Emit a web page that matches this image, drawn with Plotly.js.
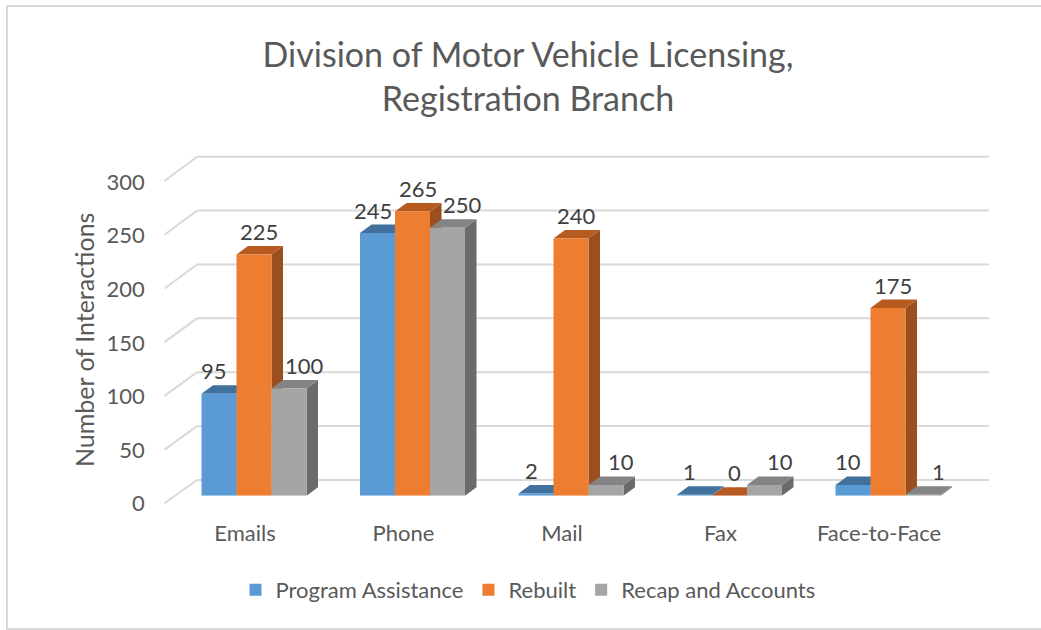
<!DOCTYPE html>
<html>
<head>
<meta charset="utf-8">
<script src="https://cdn.plot.ly/plotly-3.0.1.min.js"></script>
<style>
html,body{margin:0;padding:0;background:#fff;overflow:hidden;}
#wrap{position:relative;width:1041px;height:630px;}
#chart{width:1041px;height:630px;}
#frame{position:absolute;left:6px;top:5px;width:1100px;height:625px;border:2px solid #d9d9d9;box-sizing:border-box;pointer-events:none;}
</style>
</head>
<body>
<div id="wrap"><div id="chart"></div><div id="frame"></div></div>
<script>
// ---- data ----
const categories = ['Emails', 'Phone', 'Mail', 'Fax', 'Face-to-Face'];
const seriesNames = ['Program Assistance', 'Rebuilt', 'Recap and Accounts'];
const programAssistance = [95, 245, 2, 1, 10];
const rebuilt = [225, 265, 240, 0, 175];
const recapAndAccounts = [100, 250, 10, 10, 1];
const yTickVals = [0, 50, 100, 150, 200, 250, 300];
const titleText = 'Division of Motor Vehicle Licensing,<br>Registration Branch';
const yTitleText = 'Number of Interactions';

// ---- styles ----
const frontColors = ['#5B9BD5', '#ED7D31', '#A5A5A5'];
const topColors = ['#41719C', '#B65A20', '#848484'];
const sideColors = ['#3A6590', '#9B4F1E', '#6B6B6B'];
const labelShift = [-5, 5, 15];
const FONT = 'Lato, "Open Sans", sans-serif';
const TXT = '#595959';
const GRID = '#d9d9d9';

const W = 1041, H = 630;
const px = v => v / W;
const py = v => 1 - v / H;

// geometry (pixels)
const barX0 = 174.75, barX1 = 967.25, barYbase = 495.7, barYtop = 174.1;
const wallX0 = 197, wallX1 = 989, wallYbase = 480, wallYtop = 156.7;
const axX = 164.5, axYbase = 503.3, axYtop = 181;
const depthX = 11.5, depthY = 8.5;
const yMax = 300;
const bargap = 1 - 105 / 158.5;

const seriesValues = [programAssistance, rebuilt, recapAndAccounts];
const xIdx = categories.map((c, i) => i);

const traces = seriesValues.map((vals, j) => ({
  type: 'bar',
  name: seriesNames[j],
  x: xIdx,
  y: vals,
  marker: {color: frontColors[j], line: {width: 0}},
  hoverinfo: 'skip'
}));

// 3D faces via data coords
const nS = seriesValues.length;
const groupW = 1 - bargap;
const bw = groupW / nS;
const xu = (categories.length) / (barX1 - barX0);
const yu = yMax / (barYbase - barYtop);
const dX = depthX * xu, dY = depthY * yu;
const shapes = [];

// back wall gridlines and diagonal connectors (from tick values)
yTickVals.forEach(t => {
  const yf = axYbase - (axYbase - axYtop) * t / yMax;
  const yb = wallYbase - (wallYbase - wallYtop) * t / yMax;
  shapes.push({
    type: 'line', xref: 'paper', yref: 'paper', layer: 'below',
    x0: px(wallX0), y0: py(yb), x1: px(wallX1), y1: py(yb),
    line: {color: GRID, width: 2}
  });
  shapes.push({
    type: 'line', xref: 'paper', yref: 'paper', layer: 'below',
    x0: px(axX), y0: py(yf), x1: px(wallX0), y1: py(yb),
    line: {color: GRID, width: 2}
  });
});

categories.forEach((c, i) => {
  seriesValues.forEach((vals, j) => {
    const v = vals[i];
    const L = i - groupW / 2 + j * bw;
    const R = L + bw;
    shapes.push({
      type: 'path', xref: 'x', yref: 'y', layer: 'below',
      path: `M${R},0 L${R},${v} L${R + dX},${v + dY} L${R + dX},${dY} Z`,
      fillcolor: sideColors[j], line: {width: 0}
    });
    shapes.push({
      type: 'path', xref: 'x', yref: 'y', layer: 'below',
      path: `M${L},${v} L${R},${v} L${R + dX},${v + dY} L${L + dX},${v + dY} Z`,
      fillcolor: topColors[j], line: {width: 0}
    });
  });
});

const annotations = [];
categories.forEach((c, i) => {
  seriesValues.forEach((vals, j) => {
    const L = i - groupW / 2 + j * bw;
    annotations.push({
      x: L + bw / 2, y: vals[i], xref: 'x', yref: 'y',
      text: String(vals[i]), showarrow: false,
      xanchor: 'center', yanchor: 'middle',
      xshift: labelShift[j], yshift: 23,
      font: {family: FONT, size: 22, color: '#404040'}
    });
  });
});
annotations.push({
  x: px(84), y: py(340), xref: 'paper', yref: 'paper',
  text: yTitleText, textangle: -90, showarrow: false,
  xanchor: 'center', yanchor: 'middle',
  font: {family: FONT, size: 25, color: TXT}
});

const layout = {
  width: W, height: H,
  margin: {l: 0, r: 0, t: 0, b: 0},
  paper_bgcolor: '#ffffff',
  plot_bgcolor: 'rgba(0,0,0,0)',
  font: {family: FONT, color: TXT},
  title: {
    text: titleText, x: px(528), xanchor: 'center',
    y: py(67), yanchor: 'middle', yref: 'container',
    font: {family: FONT, size: 34, color: TXT}
  },
  barmode: 'group', bargap: bargap, bargroupgap: 0,
  showlegend: true,
  legend: {
    orientation: 'h', x: px(528), xanchor: 'center', y: py(590), yanchor: 'middle',
    font: {family: FONT, size: 22, color: TXT}, bgcolor: 'rgba(0,0,0,0)'
  },
  xaxis: {
    domain: [px(barX0), px(barX1)], range: [-0.5, categories.length - 0.5], anchor: 'y',
    tickvals: xIdx, ticktext: categories, ticks: '', showgrid: false, zeroline: false, showline: false,
    tickfont: {family: FONT, size: 22, color: TXT}, ticklabelshift: -9, ticklabelstandoff: 22, fixedrange: true
  },
  yaxis: {
    domain: [py(barYbase), py(barYtop)], range: [0, yMax], anchor: 'x',
    tickvals: yTickVals, ticks: '', showgrid: false, zeroline: false, showline: false,
    tickfont: {family: FONT, size: 22, color: TXT}, ticklabelshift: 8, ticklabelstandoff: 29, fixedrange: true
  },
  shapes: shapes,
  annotations: annotations
};

Plotly.newPlot('chart', traces, layout, {displayModeBar: false, staticPlot: true});
</script>
</body>
</html>
